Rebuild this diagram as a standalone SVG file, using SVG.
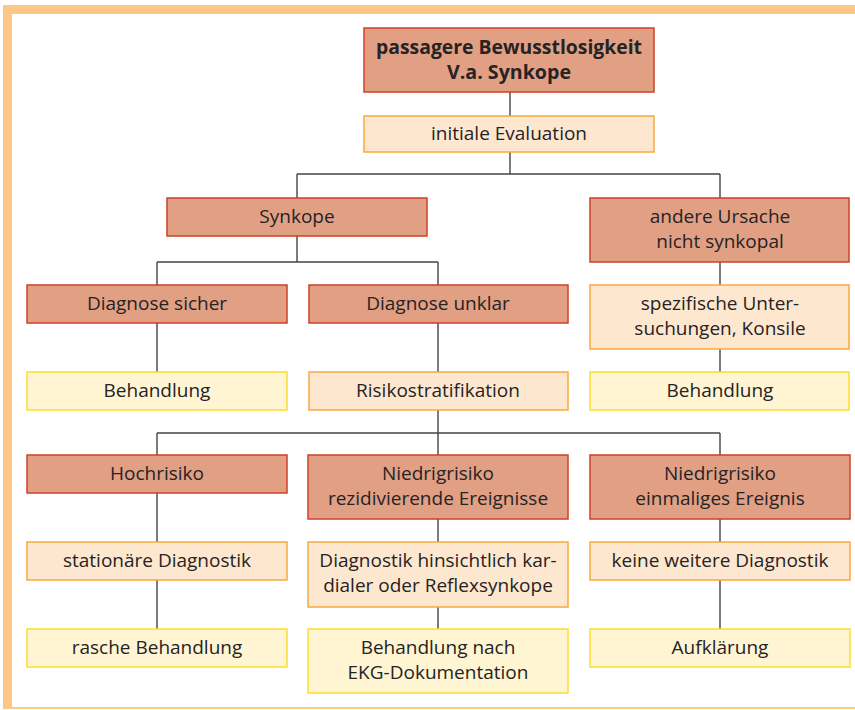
<svg xmlns="http://www.w3.org/2000/svg" width="855" height="710" viewBox="0 0 855 710">
<style>
.dark{fill:#e19f84;stroke:#d0402a;stroke-width:1.5}
.peach{fill:#fee7cf;stroke:#f7a93e;stroke-width:1.5}
.yel{fill:#fff5d3;stroke:#fbdd2e;stroke-width:1.5}
text{font-family:"Open Sans","Noto Sans","DejaVu Sans",sans-serif;font-size:19px;fill:#262324;text-anchor:middle}
.b{font-weight:bold;font-size:19px}
#conn path{fill:none;stroke:#444;stroke-width:1.4}
</style>
<rect x="0" y="0" width="855" height="710" fill="#ffffff"/>
<rect x="3" y="5" width="852" height="704" fill="#fdc887"/>
<rect x="12" y="14" width="843" height="693" fill="#ffffff"/>
<g id="conn">
<path d="M510 92V116M510 152V174M297 174H720M297 174V198M720 174V198"/>
<path d="M297 236V262M157 262H438M157 262V285M438 262V285"/>
<path d="M157 323V372M438 323V372M720 262V285M720 349V372"/>
<path d="M438 410V455M157 433H720M157 433V455M720 433V455"/>
<path d="M157 493V542M157 580V629M438 519V542M438 607V629M720 519V542M720 580V629"/>
</g>
<g id="n1"><rect class="dark" x="364" y="28" width="290" height="64"/><text class="b" x="509" y="54" textLength="266" lengthAdjust="spacingAndGlyphs">passagere Bewusstlosigkeit</text><text class="b" x="509" y="79" textLength="124" lengthAdjust="spacingAndGlyphs">V.a. Synkope</text></g>
<g id="n2"><rect class="peach" x="364" y="116" width="290" height="36"/><text x="509" y="140">initiale Evaluation</text></g>
<g id="n3"><rect class="dark" x="167" y="198" width="260" height="38"/><text x="297" y="223">Synkope</text></g>
<g id="n4"><rect class="dark" x="590" y="198" width="259" height="64"/><text x="720" y="223">andere Ursache</text><text x="720" y="248">nicht synkopal</text></g>
<g id="n5"><rect class="dark" x="27" y="285" width="260" height="38"/><text x="157" y="310">Diagnose sicher</text></g>
<g id="n6"><rect class="dark" x="309" y="285" width="259" height="38"/><text x="438" y="310">Diagnose unklar</text></g>
<g id="n7"><rect class="peach" x="590" y="285" width="259" height="64"/><text x="720" y="310">spezifische Unter-</text><text x="720" y="335">suchungen, Konsile</text></g>
<g id="n8"><rect class="yel" x="27" y="372" width="260" height="38"/><text x="157" y="397">Behandlung</text></g>
<g id="n9"><rect class="peach" x="309" y="372" width="259" height="38"/><text x="438" y="397">Risikostratifikation</text></g>
<g id="n10"><rect class="yel" x="590" y="372" width="259" height="38"/><text x="720" y="397">Behandlung</text></g>
<g id="n11"><rect class="dark" x="27" y="455" width="260" height="38"/><text x="157" y="480">Hochrisiko</text></g>
<g id="n12"><rect class="dark" x="308" y="455" width="260" height="64"/><text x="438" y="480">Niedrigrisiko</text><text x="438" y="505">rezidivierende Ereignisse</text></g>
<g id="n13"><rect class="dark" x="590" y="455" width="260" height="64"/><text x="720" y="480">Niedrigrisiko</text><text x="720" y="505">einmaliges Ereignis</text></g>
<g id="n14"><rect class="peach" x="27" y="542" width="260" height="38"/><text x="157" y="567">stationäre Diagnostik</text></g>
<g id="n15"><rect class="peach" x="308" y="542" width="260" height="65"/><text x="438" y="567">Diagnostik hinsichtlich kar-</text><text x="438" y="592">dialer oder Reflexsynkope</text></g>
<g id="n16"><rect class="peach" x="590" y="542" width="260" height="38"/><text x="720" y="567">keine weitere Diagnostik</text></g>
<g id="n17"><rect class="yel" x="27" y="629" width="260" height="38"/><text x="157" y="654">rasche Behandlung</text></g>
<g id="n18"><rect class="yel" x="308" y="629" width="260" height="64"/><text x="438" y="654">Behandlung nach</text><text x="438" y="679">EKG-Dokumentation</text></g>
<g id="n19"><rect class="yel" x="590" y="629" width="260" height="38"/><text x="720" y="654">Aufklärung</text></g>
</svg>
